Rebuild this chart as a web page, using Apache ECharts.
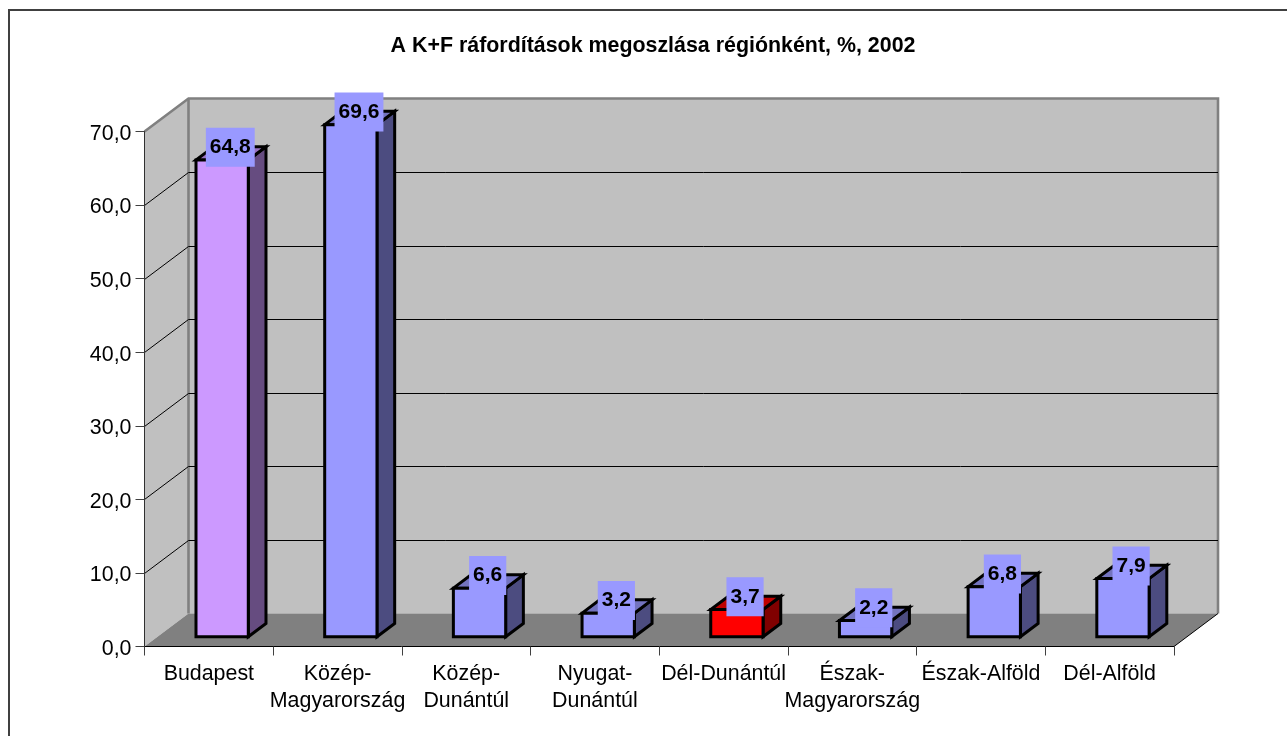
<!DOCTYPE html>
<html>
<head>
<meta charset="utf-8">
<style>
html, body { margin: 0; padding: 0; background: #fff; }
#main { width: 1287px; height: 736px; }
</style>
<script src="https://cdn.jsdelivr.net/npm/echarts@6/dist/echarts.min.js"></script>
</head>
<body>
<div id="main"></div>
<script>
var categories = ['Budapest', 'Közép-\nMagyarország', 'Közép-\nDunántúl', 'Nyugat-\nDunántúl', 'Dél-Dunántúl', 'Észak-\nMagyarország', 'Észak-Alföld', 'Dél-Alföld'];
var values = [64.8, 69.6, 6.6, 3.2, 3.7, 2.2, 6.8, 7.9];
var gridValues = [10, 20, 30, 40, 50, 60];

var font = '"Liberation Sans", Arial, sans-serif';

// depth of the chart box and of the bars, in px
var boxDx = 44, boxDy = -33;
var barDx = 17.7, barDy = -13.3;
var barShiftX = 13.3, barShiftY = -9.8;
var barRatio = 52.3 / 128.7;

var faces = {
    'default': { front: '#9999ff', side: '#4c4c80', top: '#7373bf' },
    'Budapest': { front: '#cc99ff', side: '#664c80', top: '#9973bf' },
    'Dél-Dunántúl': { front: '#ff0000', side: '#800000', top: '#bf0000' }
};

function hun(v) {
    return v.toFixed(1).replace('.', ',');
}

var myChart = echarts.init(document.getElementById('main'));

function poly(points, fill) {
    return {
        type: 'polygon',
        shape: { points: points },
        style: { fill: fill, stroke: '#000', lineWidth: 3, lineJoin: 'miter' }
    };
}

function renderBox(params, api) {
    var band = api.size([1, 0])[0];
    var a = api.coord([0, 0]), b = api.coord([categories.length - 1, 70]);
    var x0 = a[0] - band / 2, x1 = b[0] + band / 2, y0 = a[1], y1 = b[1];
    var wall = '#c0c0c0', edge = '#808080';
    return {
        type: 'group',
        children: [
            { type: 'polygon', shape: { points: [[x0, y0], [x0 + boxDx, y0 + boxDy], [x0 + boxDx, y1 + boxDy], [x0, y1]] }, style: { fill: wall } },
            { type: 'rect', shape: { x: x0 + boxDx, y: y1 + boxDy, width: x1 - x0, height: y0 - y1 }, style: { fill: wall } },
            { type: 'polygon', shape: { points: [[x0, y0], [x1, y0], [x1 + boxDx, y0 + boxDy], [x0 + boxDx, y0 + boxDy]] }, style: { fill: '#808080' } },
            { type: 'polyline', shape: { points: [[x0, y1], [x0 + boxDx, y1 + boxDy], [x1 + boxDx, y1 + boxDy], [x1 + boxDx, y0 + boxDy]] }, style: { fill: null, stroke: edge, lineWidth: 2.6 } },
            { type: 'line', shape: { x1: x0 + boxDx, y1: y1 + boxDy, x2: x0 + boxDx, y2: y0 + boxDy }, style: { stroke: edge, lineWidth: 2.6 } },
            { type: 'line', shape: { x1: x1, y1: y0, x2: x1 + boxDx, y2: y0 + boxDy }, style: { stroke: '#000', lineWidth: 1 } }
        ]
    };
}

function renderGrid(params, api) {
    var band = api.size([1, 0])[0];
    var a = api.coord([0, api.value(0)]), b = api.coord([categories.length - 1, api.value(0)]);
    var x0 = a[0] - band / 2, x1 = b[0] + band / 2, y = Math.round(a[1]) + 0.5;
    var yb = Math.round(a[1] + boxDy) + 0.5;
    return {
        type: 'polyline',
        shape: { points: [[x0, y], [x0 + boxDx, yb], [x1 + boxDx, yb]] },
        style: { fill: null, stroke: '#000', lineWidth: 1 }
    };
}

function renderBar(params, api) {
    var band = api.size([1, 0])[0];
    var w = band * barRatio;
    var p = api.coord([api.value(0), api.value(1)]);
    var base = api.coord([api.value(0), 0]);
    var l = p[0] + barShiftX - w / 2, r = l + w;
    var t = p[1] + barShiftY, b = base[1] + barShiftY;
    var c = faces[categories[api.value(0)]] || faces['default'];
    return {
        type: 'group',
        children: [
            poly([[r, b], [r + barDx, b + barDy], [r + barDx, t + barDy], [r, t]], c.side),
            poly([[l, t], [r, t], [r + barDx, t + barDy], [l + barDx, t + barDy]], c.top),
            poly([[l, t], [r, t], [r, b], [l, b]], c.front)
        ]
    };
}

function renderLabel(params, api) {
    var p = api.coord([api.value(0), api.value(1)]);
    return {
        type: 'text',
        x: p[0] + barShiftX + barDx / 2 - 0.7,
        y: p[1] + barShiftY + barDy / 2 - 6,
        style: {
            text: hun(api.value(1)),
            align: 'center',
            verticalAlign: 'middle',
            font: 'bold 21px ' + font,
            fill: '#000',
            backgroundColor: '#9999ff',
            padding: [9, 4, 9, 4]
        }
    };
}

var barData = values.map(function (v, i) { return [i, v]; });

var option = {
    animation: false,
    title: {
        text: 'A K+F ráfordítások megoszlása régiónként, %, 2002',
        left: 648,
        top: 31,
        textAlign: 'center',
        textStyle: { fontFamily: font, fontSize: 21.4, fontWeight: 'bold', color: '#000' }
    },
    graphic: [{
        type: 'polyline',
        shape: { points: [[9, 736], [9, 10], [1287, 10]] },
        style: { fill: null, stroke: '#404040', lineWidth: 2 }
    }],
    grid: { left: 144.5, top: 131.5, width: 1029.5, height: 515 },
    xAxis: {
        type: 'category',
        data: categories,
        z: 5,
        axisLine: { show: true, lineStyle: { color: '#000', width: 1 } },
        axisTick: { show: true, length: 9, alignWithLabel: false, lineStyle: { color: '#404040' } },
        axisLabel: { interval: 0, fontFamily: font, fontSize: 21.4, color: '#000', margin: 14, lineHeight: 27 }
    },
    yAxis: {
        type: 'value',
        min: 0,
        max: 70,
        interval: 10,
        z: 5,
        splitLine: { show: false },
        axisLine: { show: true, lineStyle: { color: '#303030', width: 1 } },
        axisTick: { show: true, length: 9, lineStyle: { color: '#404040' } },
        axisLabel: {
            margin: 13,
            formatter: function (v) { return '{t|' + hun(v) + '}'; },
            rich: { t: { fontFamily: font, fontSize: 21.4, color: '#000', padding: [5, 0, 0, 0] } }
        }
    },
    series: [
        { type: 'custom', name: 'box', renderItem: renderBox, data: [[0, 0]], z: 1, silent: true },
        { type: 'custom', name: 'grid', renderItem: renderGrid, data: gridValues.map(function (v) { return [v]; }), encode: { y: 0 }, z: 2, silent: true },
        { type: 'custom', name: 'bars', renderItem: renderBar, data: barData, encode: { x: 0, y: 1 }, z: 3 },
        { type: 'custom', name: 'labels', renderItem: renderLabel, data: barData, encode: { x: 0, y: 1 }, z: 4 }
    ]
};

myChart.setOption(option);
</script>
</body>
</html>
